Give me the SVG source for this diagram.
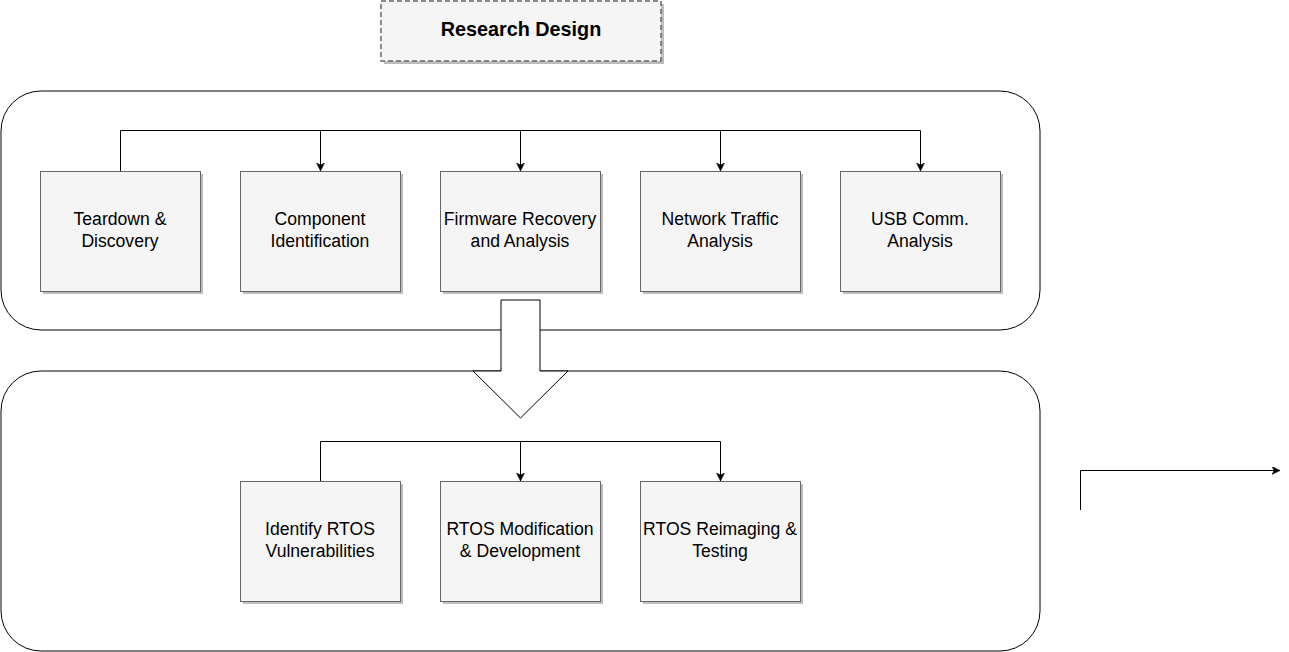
<svg xmlns="http://www.w3.org/2000/svg" width="1289" height="652" viewBox="0 0 1289 652">
<style>
.cont{fill:#fff;stroke:#000;stroke-width:1}
.box{fill:#f5f5f5;stroke:#666;stroke-width:1}
.shadow{fill:#bdbdbd}
.lbl{font-family:"Liberation Sans",Arial,sans-serif;font-size:17.6px;fill:#000;text-anchor:middle}
.title{font-family:"Liberation Sans",Arial,sans-serif;font-size:19.8px;font-weight:bold;fill:#000;text-anchor:middle}
.conn{fill:none;stroke:#000;stroke-width:1}
</style>
<defs>
<marker id="arr" markerWidth="10" markerHeight="10" refX="8" refY="4" orient="auto" markerUnits="userSpaceOnUse">
<path d="M0,0 L8,4 L0,8 L2,4 Z" fill="#000" stroke="#000" stroke-width="0.5"/>
</marker>
</defs>
<g id="title">
<rect class="shadow" x="384" y="4" width="280" height="60"/>
<rect x="381" y="1" width="280" height="60" fill="#f5f5f5" stroke="#666" stroke-width="1.5" stroke-dasharray="5,3"/>
<text class="title" x="521" y="36">Research Design</text>
</g>
<g id="container1"><rect class="cont" x="1" y="91" width="1039" height="239" rx="40" ry="40"/></g>
<g id="container2"><rect class="cont" x="1" y="371" width="1039" height="280" rx="40" ry="40"/></g>
<g id="n1"><rect class="shadow" x="43" y="174" width="160" height="120"/><rect class="box" x="40.5" y="171.5" width="160" height="120"/><text class="lbl" x="120" y="225">Teardown &amp;</text><text class="lbl" x="120" y="247">Discovery</text></g>
<g id="n2"><rect class="shadow" x="243" y="174" width="160" height="120"/><rect class="box" x="240.5" y="171.5" width="160" height="120"/><text class="lbl" x="320" y="225">Component</text><text class="lbl" x="320" y="247">Identification</text></g>
<g id="n3"><rect class="shadow" x="443" y="174" width="160" height="120"/><rect class="box" x="440.5" y="171.5" width="160" height="120"/><text class="lbl" x="520" y="225">Firmware Recovery</text><text class="lbl" x="520" y="247">and Analysis</text></g>
<g id="n4"><rect class="shadow" x="643" y="174" width="160" height="120"/><rect class="box" x="640.5" y="171.5" width="160" height="120"/><text class="lbl" x="720" y="225">Network Traffic</text><text class="lbl" x="720" y="247">Analysis</text></g>
<g id="n5"><rect class="shadow" x="843" y="174" width="160" height="120"/><rect class="box" x="840.5" y="171.5" width="160" height="120"/><text class="lbl" x="920" y="225">USB Comm.</text><text class="lbl" x="920" y="247">Analysis</text></g>
<g id="n6"><rect class="shadow" x="243" y="484" width="160" height="120"/><rect class="box" x="240.5" y="481.5" width="160" height="120"/><text class="lbl" x="320" y="535">Identify RTOS</text><text class="lbl" x="320" y="557">Vulnerabilities</text></g>
<g id="n7"><rect class="shadow" x="443" y="484" width="160" height="120"/><rect class="box" x="440.5" y="481.5" width="160" height="120"/><text class="lbl" x="520" y="535">RTOS Modification</text><text class="lbl" x="520" y="557">&amp; Development</text></g>
<g id="n8"><rect class="shadow" x="643" y="484" width="160" height="120"/><rect class="box" x="640.5" y="481.5" width="160" height="120"/><text class="lbl" x="720" y="535">RTOS Reimaging &amp;</text><text class="lbl" x="720" y="557">Testing</text></g>
<g id="connectors">
<path class="conn" d="M120.5,171 V130.5 H920.5"/>
<path class="conn" d="M320.5,130.5 V171" marker-end="url(#arr)"/>
<path class="conn" d="M520.5,130.5 V171" marker-end="url(#arr)"/>
<path class="conn" d="M720.5,130.5 V171" marker-end="url(#arr)"/>
<path class="conn" d="M920.5,130.5 V171" marker-end="url(#arr)"/>
<path class="conn" d="M320.5,481 V441.5 H720.5"/>
<path class="conn" d="M520.5,441.5 V481" marker-end="url(#arr)"/>
<path class="conn" d="M720.5,441.5 V481" marker-end="url(#arr)"/>
<path d="M501,300 H540 V371 H568 L520.5,418 L473,371 H501 Z" fill="#fff" stroke="#000" stroke-width="1"/>
<path class="conn" d="M1080.5,510 V470.5 H1280" marker-end="url(#arr)"/>
</g>
</svg>
